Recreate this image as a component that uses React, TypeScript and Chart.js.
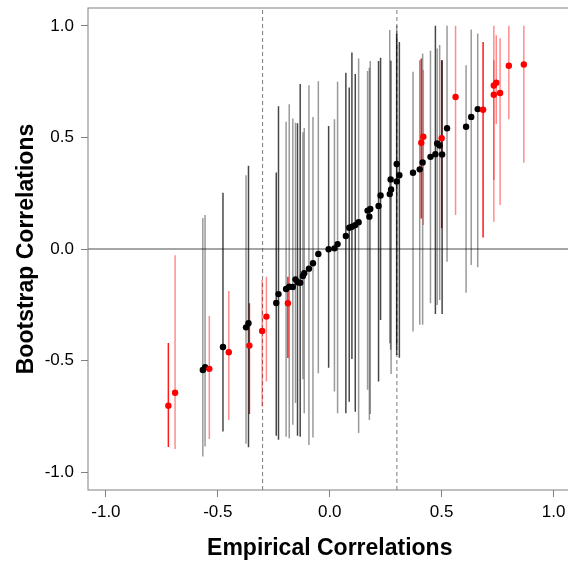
import React, { useEffect, useRef } from "react";
import { Chart, registerables } from "chart.js";

Chart.register(...registerables);

// Empirical correlation (x), bootstrap correlation (y) and bootstrap interval
const empirical = [
  -0.721, -0.691, -0.567, -0.557, -0.538, -0.477, -0.451, -0.374, -0.363, -0.359,
  -0.302, -0.283, -0.239, -0.229, -0.187, -0.195, -0.181, -0.165, -0.153, -0.144,
  -0.132, -0.12, -0.114, -0.093, -0.075, -0.051, -0.005, 0.021, 0.035, 0.072,
  0.087, 0.099, 0.114, 0.129, 0.169, 0.177, 0.181, 0.218, 0.227, 0.268,
  0.274, 0.272, 0.299, 0.311, 0.299, 0.372, 0.402, 0.409, 0.418, 0.415,
  0.45, 0.472, 0.48, 0.491, 0.502, 0.5, 0.524, 0.562, 0.609, 0.632,
  0.661, 0.685, 0.733, 0.744, 0.733, 0.761, 0.8, 0.867,
];
const bootstrap = [
  -0.702, -0.644, -0.542, -0.53, -0.537, -0.439, -0.463, -0.351, -0.333, -0.433,
  -0.367, -0.303, -0.242, -0.202, -0.243, -0.179, -0.169, -0.17, -0.136, -0.149,
  -0.151, -0.121, -0.109, -0.088, -0.064, -0.022, -0.001, 0.003, 0.022, 0.058,
  0.095, 0.1, 0.107, 0.12, 0.172, 0.145, 0.179, 0.193, 0.24, 0.246,
  0.267, 0.312, 0.303, 0.331, 0.381, 0.342, 0.357, 0.476, 0.503, 0.388,
  0.413, 0.425, 0.473, 0.464, 0.424, 0.496, 0.541, 0.681, 0.548, 0.592,
  0.627, 0.624, 0.733, 0.745, 0.691, 0.699, 0.821, 0.827,
];
const ciLower = [
  -0.887, -0.896, -0.93, -0.885, -0.852, -0.818, -0.766, -0.873, -0.888, -0.739,
  -0.706, -0.594, -0.837, -0.855, -0.489, -0.841, -0.848, -0.788, -0.69, -0.837,
  -0.841, -0.584, -0.736, -0.878, -0.845, -0.557, -0.532, -0.639, -0.736, -0.736,
  -0.684, -0.493, -0.729, -0.825, -0.631, -0.766, -0.739, -0.594, -0.318, -0.422,
  -0.56, -0.452, -0.475, -0.487, -0.43, -0.37, -0.34, 0.137, 0.107, -0.34,
  -0.243, -0.291, -0.251, -0.228, -0.291, 0.093, -0.057, 0.152, -0.196, -0.072,
  -0.082, 0.052, 0.122, 0.56, 0.309, 0.197, 0.581, 0.386,
];
const ciUpper = [
  -0.421, -0.028, 0.139, 0.152, -0.3, 0.252, -0.188, 0.331, 0.373, -0.243,
  -0.139, -0.124, 0.343, 0.64, -0.124, 0.57, 0.649, 0.585, 0.566, 0.563,
  0.739, 0.523, 0.542, 0.734, 0.591, 0.752, 0.551, 0.581, 0.749, 0.79,
  0.724, 0.881, 0.784, 0.854, 0.798, 0.812, 0.843, 0.842, 0.857, 0.981,
  0.843, 0.846, 0.963, 0.928, 1.0, 0.794, 0.846, 0.854, 0.802, 0.876,
  0.888, 1.0, 0.899, 0.914, 0.846, 0.846, 1.0, 1.0, 0.824, 0.984,
  0.966, 0.928, 1.0, 0.958, 0.846, 0.944, 1.0, 1.0,
];
// bar shading as seen in the picture (1 = strong, 0 = faint)
const barShade = [
  1, 0, 0, 0, 0, 1, 0, 0, 1, 1,
  0, 0, 1, 1, 1, 0, 0, 0, 0, 1,
  1, 0, 0, 0, 0, 0, 1, 0, 0, 1,
  1, 1, 1, 0, 0, 0, 0, 1, 1, 0,
  0, 0, 1, 1, 0, 0, 0, 1, 0, 0,
  0, 1, 0, 0, 1, 1, 0, 0, 0, 0,
  0, 1, 0, 0, 0, 0, 0, 0,
];
const xTicks = [-1, -0.5, 0, 0.5, 1];
const yTicks = [-1, -0.5, 0, 0.5, 1];
const thresholds = [-0.3, 0.3];
const axisMin = -1.08;
const axisMax = 1.08;

const FONT = "'Liberation Sans', Arial, Helvetica, sans-serif";
const FRAME = "#808080";

export default function App() {
  const ref = useRef<HTMLCanvasElement | null>(null);

  useEffect(() => {
    if (!ref.current) return;
    const excludesZero = empirical.map((_, i) => ciLower[i] > 0 || ciUpper[i] < 0);

    const barSets: any[] = empirical.map((x, i) => {
      const strong = barShade[i] === 1;
      const color = excludesZero[i]
        ? strong ? "rgba(255,0,0,0.9)" : "rgba(255,0,0,0.45)"
        : strong ? "rgba(0,0,0,0.72)" : "rgba(0,0,0,0.4)";
      return {
        data: [
          { x, y: ciLower[i] },
          { x, y: ciUpper[i] },
        ],
        showLine: true,
        borderColor: color,
        borderWidth: 1.5,
        pointRadius: 0,
        order: 2,
      };
    });

    const refLines: any[] = [
      {
        data: [
          { x: axisMin, y: 0 },
          { x: axisMax, y: 0 },
        ],
        showLine: true,
        borderColor: "#4d4d4d",
        borderWidth: 1,
        pointRadius: 0,
        order: 3,
      },
      ...thresholds.map((t) => ({
        data: [
          { x: t, y: axisMin },
          { x: t, y: axisMax },
        ],
        showLine: true,
        borderColor: "#7a7a7a",
        borderWidth: 1,
        borderDash: [4, 3],
        pointRadius: 0,
        order: 3,
      })),
    ];

    const pointSet = {
      data: empirical.map((x, i) => ({ x, y: bootstrap[i] })),
      showLine: false,
      pointRadius: 3.2,
      pointBorderWidth: 0,
      pointBackgroundColor: excludesZero.map((e) => (e ? "#ff0000" : "#000000")),
      pointBorderColor: excludesZero.map((e) => (e ? "#ff0000" : "#000000")),
      order: 0,
    };

    const framePlugin = {
      id: "frame",
      afterDraw(chart: any) {
        const { ctx, chartArea } = chart;
        ctx.save();
        ctx.strokeStyle = FRAME;
        ctx.lineWidth = 1;
        ctx.strokeRect(chartArea.left, chartArea.top, chartArea.right - chartArea.left, chartArea.bottom - chartArea.top);
        ctx.restore();
      },
    };

    const chart = new Chart(ref.current, {
      type: "scatter",
      data: { datasets: [pointSet, ...barSets, ...refLines] },
      plugins: [framePlugin],
      options: {
        responsive: false,
        animation: false,
        layout: { padding: { top: 8, right: 8.5, left: 0, bottom: 0 } },
        plugins: { legend: { display: false }, tooltip: { enabled: false } },
        scales: {
          x: {
            type: "linear",
            min: axisMin,
            max: axisMax,
            afterBuildTicks: (s: any) => {
              s.ticks = xTicks.map((v) => ({ value: v }));
            },
            afterFit: (s: any) => {
              s.height = 75;
              s.paddingLeft = 0;
              s.paddingRight = 0;
            },
            ticks: {
              color: "#000",
              padding: 5,
              font: { family: FONT, size: 17 },
              callback: (v: any) => Number(v).toFixed(1),
            },
            grid: { drawOnChartArea: false, drawTicks: true, tickLength: 7, tickColor: FRAME },
            border: { display: false },
            title: {
              display: true,
              text: "Empirical Correlations",
              color: "#000",
              font: { family: FONT, size: 23, weight: "bold" },
              padding: { top: 0, bottom: 3 },
            },
          },
          y: {
            type: "linear",
            min: axisMin,
            max: axisMax,
            afterBuildTicks: (s: any) => {
              s.ticks = yTicks.map((v) => ({ value: v }));
            },
            afterFit: (s: any) => {
              s.width = 88;
              s.paddingTop = 0;
              s.paddingBottom = 0;
            },
            ticks: {
              color: "#000",
              padding: 7,
              font: { family: FONT, size: 17 },
              callback: (v: any) => Number(v).toFixed(1),
            },
            grid: { drawOnChartArea: false, drawTicks: true, tickLength: 7, tickColor: FRAME },
            border: { display: false },
            title: {
              display: true,
              text: "Bootstrap Correlations",
              color: "#000",
              font: { family: FONT, size: 23, weight: "bold" },
              padding: { top: 13, bottom: 0 },
            },
          },
        },
      },
    } as any);

    return () => chart.destroy();
  }, []);

  return (
    <div style={{ position: "fixed", left: 0, top: 0, width: 568, height: 565, overflow: "hidden", background: "#fff" }}>
      <canvas ref={ref} width={580} height={565} style={{ display: "block", width: 580, height: 565 }} />
    </div>
  );
}
